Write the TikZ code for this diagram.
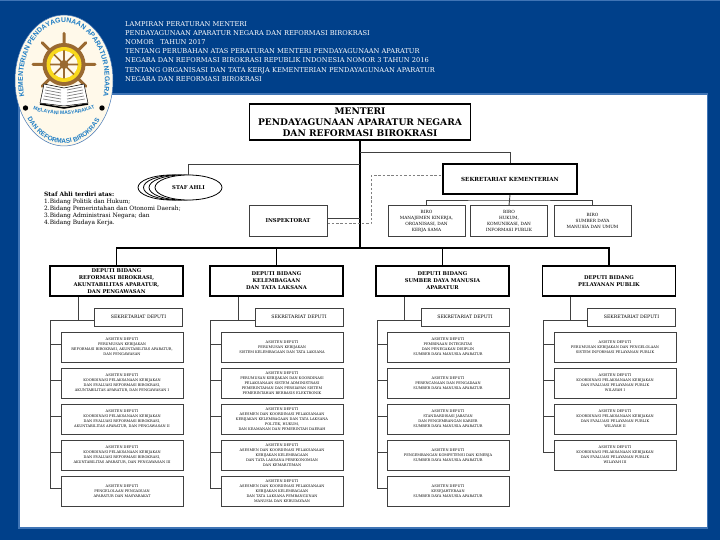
\documentclass[tikz,border=0pt]{standalone}
\usepackage{fontspec}
\setmainfont{DejaVu Serif}
\newfontfamily\logofont{Liberation Sans}
\usetikzlibrary{shapes.geometric,decorations.text}
\definecolor{bgblue}{HTML}{00408A}
\definecolor{edgeblue}{HTML}{3F74B5}
\definecolor{logoblue}{HTML}{1C7CC4}
\definecolor{logocream}{HTML}{FFF9EA}
\definecolor{wheelbrown}{HTML}{9A6A32}
\definecolor{wheelyellow}{HTML}{F8D81C}
\definecolor{linegray}{HTML}{404040}
\tikzset{
  topbox/.style={draw,line width=1.8pt,inner sep=0pt,align=center,font=\fontsize{9.1}{10.8}\selectfont\bfseries},
  depbox/.style={draw,line width=1.8pt,inner sep=0pt,minimum width=133pt,minimum height=30pt,align=center,font=\fontsize{5.2}{7}\selectfont\bfseries},
  birobox/.style={draw=linegray,line width=1pt,inner sep=0pt,minimum width=77pt,minimum height=30pt,align=center,font=\fontsize{4.3}{6}\selectfont},
  sdbox/.style={draw=linegray,line width=1pt,inner sep=0pt,minimum width=88pt,minimum height=18pt,font=\fontsize{4.65}{6}\selectfont},
  asbox/.style={draw=linegray,line width=1pt,inner sep=0pt,minimum width=122pt,minimum height=30pt,align=center,font=\fontsize{3.55}{5}\selectfont},
  sael/.style={draw,ellipse,fill=white,line width=.8pt,inner sep=0pt,minimum width=67pt,minimum height=25pt},
  conn/.style={line width=.9pt,draw=linegray},
  logotext/.style={decoration={text along path,text align=center,text color=logoblue,text={#1}},decorate}
}
\begin{document}
\begin{tikzpicture}[x=1pt,y=-1pt]
\useasboundingbox (0,0) rectangle (720,540);
\fill[bgblue] (0,0) rectangle (720,540);
\fill[edgeblue] (0,0) rectangle (720,1.5);
\draw[edgeblue,fill=white,line width=1.5pt] (19,94) rectangle (707.5,528);
\node (judul) at (125,21.5) [anchor=north west,inner sep=0pt,text=white,align=left,font=\fontsize{6.65}{9.1}\selectfont] {LAMPIRAN PERATURAN MENTERI\\
PENDAYAGUNAAN APARATUR NEGARA DAN REFORMASI BIROKRASI\\
NOMOR\quad TAHUN 2017\\
TENTANG PERUBAHAN ATAS PERATURAN MENTERI PENDAYAGUNAAN APARATUR\\
NEGARA DAN REFORMASI BIROKRASI REPUBLIK INDONESIA NOMOR 3 TAHUN 2016\\
TENTANG ORGANISASI DAN TATA KERJA KEMENTERIAN PENDAYAGUNAAN APARATUR\\
NEGARA DAN REFORMASI BIROKRASI};
% logo
\fill[logocream,draw=edgeblue,line width=.5pt] (64,80.5) ellipse [x radius=49,y radius=65.5];
\begin{scope}[shift={(64,64.5)},y=1pt]
\draw[wheelbrown,line width=3pt,line cap=round] (0:31) -- (180:31) (45:31) -- (225:31) (90:31) -- (270:20) (135:31) -- (315:31);
\fill[wheelbrown] (0,0) circle (21.5);
\fill[wheelyellow] (0,0) circle (17.5);
\fill[logocream] (0,0) circle (13.5);
\draw[wheelbrown,line width=1.6pt] (0:14) -- (180:14) (45:14) -- (225:14) (90:14) -- (270:14) (135:14) -- (315:14);
\fill[wheelbrown] (0,0) circle (4.5);
\end{scope}
\fill[white,draw=black,line width=.5pt] (64,88) -- (44,84) -- (40,103) -- (64,106) -- (88,103) -- (84,84) -- cycle;
\draw[black,line width=1.5pt] (40,104) -- (64,108) -- (88,104);
\draw[gray,line width=.7pt] (46,87) -- (61,90) (45,90) -- (61,93) (45,93) -- (61,96) (44,96) -- (61,99) (43,99) -- (61,102) (82,87) -- (67,90) (83,90) -- (67,93) (83,93) -- (67,96) (84,96) -- (67,99) (85,99) -- (67,102);
\fill[black] (25.5,108) circle (2.7);
\fill[black] (102,108) circle (2.7);
\begin{scope}[shift={(64,80.5)},y=1pt]
\path[postaction={logotext={|\logofont\fontsize{6.9}{6.9}\selectfont\bfseries|KEMENTERIAN PENDAYAGUNAAN APARATUR NEGARA}}] (-39,-18.5) arc [start angle=198.5,end angle=-18.5,x radius=41,y radius=58];
\path[postaction={logotext={|\logofont\fontsize{6.5}{6.5}\selectfont\bfseries|DAN REFORMASI BIROKRASI}}] (-35.2,-40.5) arc [start angle=220,end angle=320,x radius=46,y radius=63];
\path[postaction={logotext={|\logofont\fontsize{5}{5}\selectfont\bfseries|MELAYANI MASYARAKAT}}] (-32,-29) .. controls (-12,-36) and (12,-36) .. (32,-27);
\end{scope}
% atas
\node (men) at (360,122) [topbox,minimum width=221pt,minimum height=36pt] {MENTERI\\PENDAYAGUNAAN APARATUR NEGARA\\DAN REFORMASI BIROKRASI};
\node (sek) at (510,179) [topbox,minimum width=134pt,minimum height=30pt,font=\fontsize{5.6}{7}\selectfont\bfseries] {SEKRETARIAT KEMENTERIAN};
\node (ins) at (288,221) [draw=linegray,line width=1pt,inner sep=0pt,minimum width=78pt,minimum height=30pt,font=\fontsize{5.35}{7}\selectfont\bfseries] {INSPEKTORAT};
\node (sa1) at (171.5,187.5) [sael] {};
\node (sa2) at (177,187.5) [sael] {};
\node (sa3) at (182.5,187.5) [sael] {};
\node (staf) at (188.5,187.5) [sael,font=\fontsize{5.3}{7}\selectfont\bfseries] {STAF AHLI};
\node (ket) at (44,192) [anchor=north west,inner sep=0pt,align=left,font=\fontsize{5.9}{7}\selectfont] {\textbf{Staf Ahli terdiri atas:}\\
1.Bidang Politik dan Hukum;\\
2.Bidang Pemerintahan dan Otonomi Daerah;\\
3.Bidang Administrasi Negara; dan\\
4.Bidang Budaya Kerja.};
\node (bi1) at (426.5,221) [birobox] {BIRO\\MANAJEMEN KINERJA,\\ORGANISASI, DAN\\KERJA SAMA};
\node (bi2) at (509,221) [birobox] {BIRO\\HUKUM,\\KOMUNIKASI, DAN\\INFORMASI PUBLIK};
\node (bi3) at (592.5,221) [birobox] {BIRO\\SUMBER DAYA\\MANUSIA DAN UMUM};
\coordinate (tsek) at (360,152);
\coordinate (tstaf) at (360,164);
\coordinate (tins) at (360,218);
\coordinate (hub) at (360,248);
\coordinate (dash) at (371,224);
\coordinate (tbiro) at (509,200);
\draw[line width=1.2pt] (men.south) -- (hub);
\draw[conn] (sek.north) |- (tsek);
\draw[conn] (staf.north) |- (tstaf);
\draw[conn] ([yshift=3pt]ins.east) -- (tins);
\draw[line width=1pt,gray,dash pattern=on 2.5pt off 1.8pt] ([yshift=-3pt]ins.east) -- (dash) |- ([yshift=3pt]sek.west);
\draw[conn] (sek.south) -- (bi2.north);
\draw[conn] (bi1.north) |- (tbiro) -| (bi3.north);
% deputi
\node (dep1) at (116.5,281) [depbox] {DEPUTI BIDANG\\REFORMASI BIROKRASI,\\AKUNTABILITAS APARATUR,\\DAN PENGAWASAN};
\node (dep2) at (276.5,281) [depbox] {DEPUTI BIDANG\\KELEMBAGAAN\\DAN TATA LAKSANA};
\node (dep3) at (442.5,281) [depbox] {DEPUTI BIDANG\\SUMBER DAYA MANUSIA\\APARATUR};
\node (dep4) at (609,281) [depbox] {DEPUTI BIDANG\\PELAYANAN PUBLIK};
\draw[line width=1.2pt] (dep1.north) |- (hub);
\draw[line width=1.2pt] (dep2.north) |- (hub);
\draw[line width=1.2pt] (dep3.north) |- (hub);
\draw[line width=1.2pt] (dep4.north) |- (hub);
\node (sd1) at (138.5,317) [sdbox] {SEKRETARIAT DEPUTI};
\node (sd2) at (299,317) [sdbox] {SEKRETARIAT DEPUTI};
\node (sd3) at (465,317) [sdbox] {SEKRETARIAT DEPUTI};
\node (sd4) at (631.5,317) [sdbox] {SEKRETARIAT DEPUTI};
% kolom 1
\node (a11) at (122,347) [asbox] {ASISTEN DEPUTI\\PERUMUSAN KEBIJAKAN\\REFORMASI BIROKRASI, AKUNTABILITAS APARATUR,\\DAN PENGAWASAN};
\node (a12) at (122,383) [asbox] {ASISTEN DEPUTI\\KOORDINASI PELAKSANAAN KEBIJAKAN\\DAN EVALUASI REFORMASI BIROKRASI,\\AKUNTABILITAS APARATUR, DAN PENGAWASAN I};
\node (a13) at (122,419) [asbox] {ASISTEN DEPUTI\\KOORDINASI PELAKSANAAN KEBIJAKAN\\DAN EVALUASI REFORMASI BIROKRASI,\\AKUNTABILITAS APARATUR, DAN PENGAWASAN II};
\node (a14) at (122,455) [asbox] {ASISTEN DEPUTI\\KOORDINASI PELAKSANAAN KEBIJAKAN\\DAN EVALUASI REFORMASI BIROKRASI,\\AKUNTABILITAS APARATUR, DAN PENGAWASAN III};
\node (a15) at (122,491) [asbox] {ASISTEN DEPUTI\\PENGELOLAAN PENGADUAN\\APARATUR DAN MASYARAKAT};
% kolom 2
\node (a21) at (282,347) [asbox] {ASISTEN DEPUTI\\PERUMUSAN KEBIJAKAN\\SISTEM KELEMBAGAAN DAN TATA LAKSANA};
\node (a22) at (282,383) [asbox] {ASISTEN DEPUTI\\PERUMUSAN KEBIJAKAN DAN KOORDINASI\\PELAKSANAAN SISTEM ADMINISTRASI\\PEMERINTAHAN DAN PERSIAPAN SISTEM\\PEMERINTAHAN BERBASIS ELEKTRONIK};
\node (a23) at (282,419) [asbox] {ASISTEN DEPUTI\\ASESMEN DAN KOORDINASI PELAKSANAAN\\KEBIJAKAN KELEMBAGAAN DAN TATA LAKSANA\\POLITIK, HUKUM,\\DAN KEAMANAN DAN PEMERINTAH DAERAH};
\node (a24) at (282,455) [asbox] {ASISTEN DEPUTI\\ASESMEN DAN KOORDINASI PELAKSANAAN\\KEBIJAKAN KELEMBAGAAN\\DAN TATA LAKSANA PEREKONOMIAN\\DAN KEMARITIMAN};
\node (a25) at (282,491) [asbox] {ASISTEN DEPUTI\\ASESMEN DAN KOORDINASI PELAKSANAAN\\KEBIJAKAN KELEMBAGAAN\\DAN TATA LAKSANA PEMBANGUNAN\\MANUSIA DAN KEBUDAYAAN};
% kolom 3
\node (a31) at (448,347) [asbox] {ASISTEN DEPUTI\\PEMBINAAN INTEGRITAS\\DAN PENEGAKAN DISIPLIN\\SUMBER DAYA MANUSIA APARATUR};
\node (a32) at (448,383) [asbox] {ASISTEN DEPUTI\\PERENCANAAN DAN PENGADAAN\\SUMBER DAYA MANUSIA APARATUR};
\node (a33) at (448,419) [asbox] {ASISTEN DEPUTI\\STANDARDISASI JABATAN\\DAN PENGEMBANGAN KARIER\\SUMBER DAYA MANUSIA APARATUR};
\node (a34) at (448,455) [asbox] {ASISTEN DEPUTI\\PENGEMBANGAN KOMPETENSI DAN KINERJA\\SUMBER DAYA MANUSIA APARATUR};
\node (a35) at (448,491) [asbox] {ASISTEN DEPUTI\\KESEJAHTERAAN\\SUMBER DAYA MANUSIA APARATUR};
% kolom 4
\node (a41) at (615,347) [asbox] {ASISTEN DEPUTI\\PERUMUSAN KEBIJAKAN DAN PENGELOLAAN\\SISTEM INFORMASI PELAYANAN PUBLIK};
\node (a42) at (615,383) [asbox] {ASISTEN DEPUTI\\KOORDINASI PELAKSANAAN KEBIJAKAN\\DAN EVALUASI PELAYANAN PUBLIK\\WILAYAH I};
\node (a43) at (615,419) [asbox] {ASISTEN DEPUTI\\KOORDINASI PELAKSANAAN KEBIJAKAN\\DAN EVALUASI PELAYANAN PUBLIK\\WILAYAH II};
\node (a44) at (615,455) [asbox] {ASISTEN DEPUTI\\KOORDINASI PELAKSANAAN KEBIJAKAN\\DAN EVALUASI PELAYANAN PUBLIK\\WILAYAH III};
\coordinate (j1) at (78,320);
\coordinate (j2) at (238,320);
\coordinate (j3) at (404,320);
\coordinate (j4) at (570,320);
\coordinate (s1) at (50,320);
\coordinate (s2) at (210,320);
\coordinate (s3) at (377,320);
\coordinate (s4) at (543,320);
\draw[conn] (j1 |- dep1.south) -- (j1);
\draw[conn] (j2 |- dep2.south) -- (j2);
\draw[conn] (j3 |- dep3.south) -- (j3);
\draw[conn] (j4 |- dep4.south) -- (j4);
\draw[conn] ([yshift=-3pt]sd1.west) -- (s1) |- ([yshift=3pt]a15.west);
\draw[conn] ([yshift=-3pt]sd2.west) -- (s2) |- ([yshift=3pt]a25.west);
\draw[conn] ([yshift=-3pt]sd3.west) -- (s3) |- ([yshift=3pt]a35.west);
\draw[conn] ([yshift=-3pt]sd4.west) -- (s4) |- ([yshift=3pt]a44.west);
\draw[conn] (s1) |- ([yshift=3pt]a11.west);
\draw[conn] (s1) |- ([yshift=3pt]a12.west);
\draw[conn] (s1) |- ([yshift=3pt]a13.west);
\draw[conn] (s1) |- ([yshift=3pt]a14.west);
\draw[conn] (s2) |- ([yshift=3pt]a21.west);
\draw[conn] (s2) |- ([yshift=3pt]a22.west);
\draw[conn] (s2) |- ([yshift=3pt]a23.west);
\draw[conn] (s2) |- ([yshift=3pt]a24.west);
\draw[conn] (s3) |- ([yshift=3pt]a31.west);
\draw[conn] (s3) |- ([yshift=3pt]a32.west);
\draw[conn] (s3) |- ([yshift=3pt]a33.west);
\draw[conn] (s3) |- ([yshift=3pt]a34.west);
\draw[conn] (s4) |- ([yshift=3pt]a41.west);
\draw[conn] (s4) |- ([yshift=3pt]a42.west);
\draw[conn] (s4) |- ([yshift=3pt]a43.west);
\end{tikzpicture}
\end{document}
